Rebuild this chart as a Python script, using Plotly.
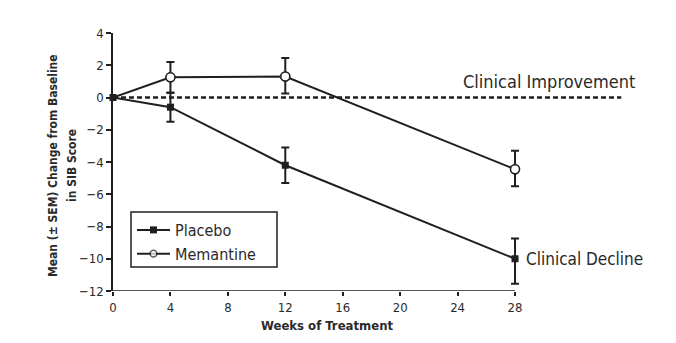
import plotly.graph_objects as go

# Weeks of treatment and mean change from baseline in SIB score (± SEM)
weeks = [0, 4, 12, 28]
placebo_mean = [0, -0.6, -4.2, -10.0]
placebo_sem_plus = [0, 0.9, 1.1, 1.25]
placebo_sem_minus = [0, 0.9, 1.1, 1.55]
memantine_mean = [0, 1.25, 1.3, -4.45]
memantine_sem_plus = [0, 0.95, 1.15, 1.15]
memantine_sem_minus = [0, 0.95, 1.05, 1.05]

x_ticks = [0, 4, 8, 12, 16, 20, 24, 28]
y_ticks = [4, 2, 0, -2, -4, -6, -8, -10, -12]

INK = "#1f1f1f"
TXT = "#2a2a2a"
FONT = "Liberation Sans Narrow, DejaVu Sans Condensed, Arial Narrow, sans-serif"

# plot area in pixels
L, R, T, B = 113, 51, 33, 52
W, H = 676, 343
PW, PH = W - L - R, H - T - B


def px_to_paper(px, py):
    return (px - L) / PW, (H - B - py) / PH


fig = go.Figure()

fig.add_trace(go.Scatter(
    x=weeks, y=memantine_mean, name="Memantine", mode="lines+markers",
    line=dict(color=INK, width=2),
    marker=dict(symbol="circle", size=[0, 9, 9, 9], color="white",
                line=dict(width=1.5, color=INK)),
    error_y=dict(type="data", symmetric=False, array=memantine_sem_plus,
                 arrayminus=memantine_sem_minus, color=INK, thickness=2, width=4),
    cliponaxis=False, legendrank=2,
))
fig.add_trace(go.Scatter(
    x=weeks, y=placebo_mean, name="Placebo", mode="lines+markers",
    line=dict(color=INK, width=2),
    marker=dict(symbol="square", size=7, color=INK),
    error_y=dict(type="data", symmetric=False, array=placebo_sem_plus,
                 arrayminus=placebo_sem_minus, color=INK, thickness=2, width=4),
    cliponaxis=False, legendrank=1,
))
# open circles redrawn on top so the error bars stop at their rim
fig.add_trace(go.Scatter(
    x=weeks[1:], y=memantine_mean[1:], mode="markers", showlegend=False, hoverinfo="skip",
    marker=dict(symbol="circle", size=9, color="white", line=dict(width=1.5, color=INK)),
    cliponaxis=False,
))

# zero reference line (dashed), extending past the last visit
fig.add_shape(type="line", xref="x", yref="y", x0=0, x1=35.4, y0=0, y1=0,
              line=dict(color=INK, width=2.5, dash="5px,3px"))
# x axis line drawn only over the treatment period
fig.add_shape(type="line", xref="x", yref="y", x0=0, x1=28, y0=-12, y1=-12,
              line=dict(color=INK, width=1.5))

# legend frame
lx0, ly0 = px_to_paper(131, 267)
lx1, ly1 = px_to_paper(277, 212)
fig.add_shape(type="rect", xref="paper", yref="paper", x0=lx0, x1=lx1, y0=ly0, y1=ly1,
              line=dict(color=INK, width=1.5), fillcolor="white", layer="below")

ax, ay = px_to_paper(637, 81)
fig.add_annotation(x=ax, y=ay, xref="paper", yref="paper", text="Clinical Improvement",
                   showarrow=False, xanchor="right", yanchor="middle",
                   font=dict(family=FONT, size=18, color=TXT))
ax, ay = px_to_paper(524, 259)
fig.add_annotation(x=ax, y=ay, xref="paper", yref="paper", text="Clinical Decline",
                   showarrow=False, xanchor="left", yanchor="middle",
                   font=dict(family=FONT, size=17, color=TXT))
ax, ay = px_to_paper(327, 325)
fig.add_annotation(x=ax, y=ay, xref="paper", yref="paper", text="<b>Weeks of Treatment</b>",
                   showarrow=False, xanchor="center", yanchor="middle",
                   font=dict(family=FONT, size=13, color=TXT))
for text, cx in [("<b>Mean (± SEM) Change from Baseline</b>", 53), ("<b>in SIB Score</b>", 72)]:
    ax, ay = px_to_paper(cx, 166)
    fig.add_annotation(x=ax, y=ay, xref="paper", yref="paper", text=text, textangle=-90,
                       showarrow=False, xanchor="center", yanchor="middle",
                       font=dict(family=FONT, size=12, color=TXT))

gx, gy = px_to_paper(132, 213)
fig.update_layout(
    width=W, height=H,
    margin=dict(l=L, r=R, t=T, b=B),
    paper_bgcolor="white", plot_bgcolor="white",
    font=dict(family=FONT, size=13, color=TXT),
    showlegend=True,
    legend=dict(x=gx, y=gy, xanchor="left", yanchor="top",
                borderwidth=0, bgcolor="rgba(0,0,0,0)",
                font=dict(family=FONT, size=16, color=TXT),
                traceorder="normal", itemwidth=33),
    xaxis=dict(range=[0, 35.66], tickvals=x_ticks, ticks="outside", ticklen=4,
               tickcolor=INK, tickwidth=1.5, showline=False, showgrid=False,
               zeroline=False, tickfont=dict(family=FONT, size=13, color=TXT)),
    yaxis=dict(range=[-12, 4], tickvals=y_ticks, ticks="outside", ticklen=5,
               tickcolor=INK, tickwidth=1.5, showline=True, linecolor=INK, linewidth=1.5,
               showgrid=False, zeroline=False,
               tickfont=dict(family=FONT, size=13, color=TXT)),
)

fig.write_html("out.html", config={"displayModeBar": False})
